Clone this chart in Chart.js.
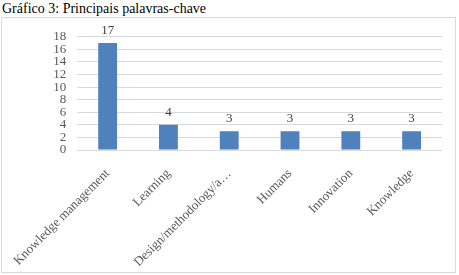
<!DOCTYPE html>
<html>
<head>
<meta charset="utf-8">
<script src="https://cdn.jsdelivr.net/npm/chart.js@4"></script>
<style>
  html, body { margin: 0; padding: 0; background: #fff; }
  #title { position: absolute; left: 2px; top: 1px; font-family: "Liberation Serif", "Times New Roman", serif; font-size: 14px; color: #000; white-space: nowrap; }
  #box { position: absolute; left: 1px; top: 17px; width: 453px; height: 254px; border: 1px solid #d9d9d9; }
  canvas { display: block; }
</style>
</head>
<body>
<div id="title">Gráfico 3: Principais palavras-chave</div>
<div id="box"><canvas id="c" width="453" height="254"></canvas></div>
<script>
const categories = ["Knowledge management", "Learning", "Design/methodology/a…", "Humans", "Innovation", "Knowledge"];
const values = [17, 4, 3, 3, 3, 3];
const yTicks = [0, 2, 4, 6, 8, 10, 12, 14, 16, 18];

const FONT = "'Liberation Serif', 'Times New Roman', serif";

const dataLabels = {
  id: 'dataLabels',
  afterDatasetsDraw(chart) {
    const ctx = chart.ctx;
    const meta = chart.getDatasetMeta(0);
    ctx.save();
    ctx.font = "13px " + FONT;
    ctx.fillStyle = "#404040";
    ctx.textAlign = "center";
    ctx.textBaseline = "bottom";
    meta.data.forEach((bar, i) => {
      ctx.fillText(String(values[i]), bar.x, bar.y - 6);
    });
    ctx.restore();
  }
};

new Chart(document.getElementById('c'), {
  type: 'bar',
  data: {
    labels: categories,
    datasets: [{
      data: values,
      backgroundColor: '#4F81BD',
      borderWidth: 0,
      barPercentage: 0.31,
      categoryPercentage: 1.0
    }]
  },
  options: {
    responsive: false,
    animation: false,
    devicePixelRatio: 1,
    layout: { padding: { left: 0, right: 13, top: 14, bottom: 0 } },
    plugins: { legend: { display: false }, tooltip: { enabled: false }, title: { display: false } },
    scales: {
      x: {
        grid: { display: false },
        border: { display: false },
        ticks: {
          minRotation: 45, maxRotation: 45, autoSkip: false,
          font: { family: FONT, size: 13 }, color: '#595959', padding: 8
        },
        afterFit(scale) { scale.height = 122; }
      },
      y: {
        min: yTicks[0], max: yTicks[yTicks.length - 1],
        afterBuildTicks(scale) { scale.ticks = yTicks.map(v => ({ value: v })); },
        grid: { color: '#d9d9d9', drawTicks: false, lineWidth: 1 },
        border: { display: false },
        ticks: {
          autoSkip: false, stepSize: 2,
          font: { family: FONT, size: 13 }, color: '#595959', padding: 11
        },
        afterFit(scale) { scale.width = 72; }
      }
    }
  },
  plugins: [dataLabels]
});
</script>
</body>
</html>
